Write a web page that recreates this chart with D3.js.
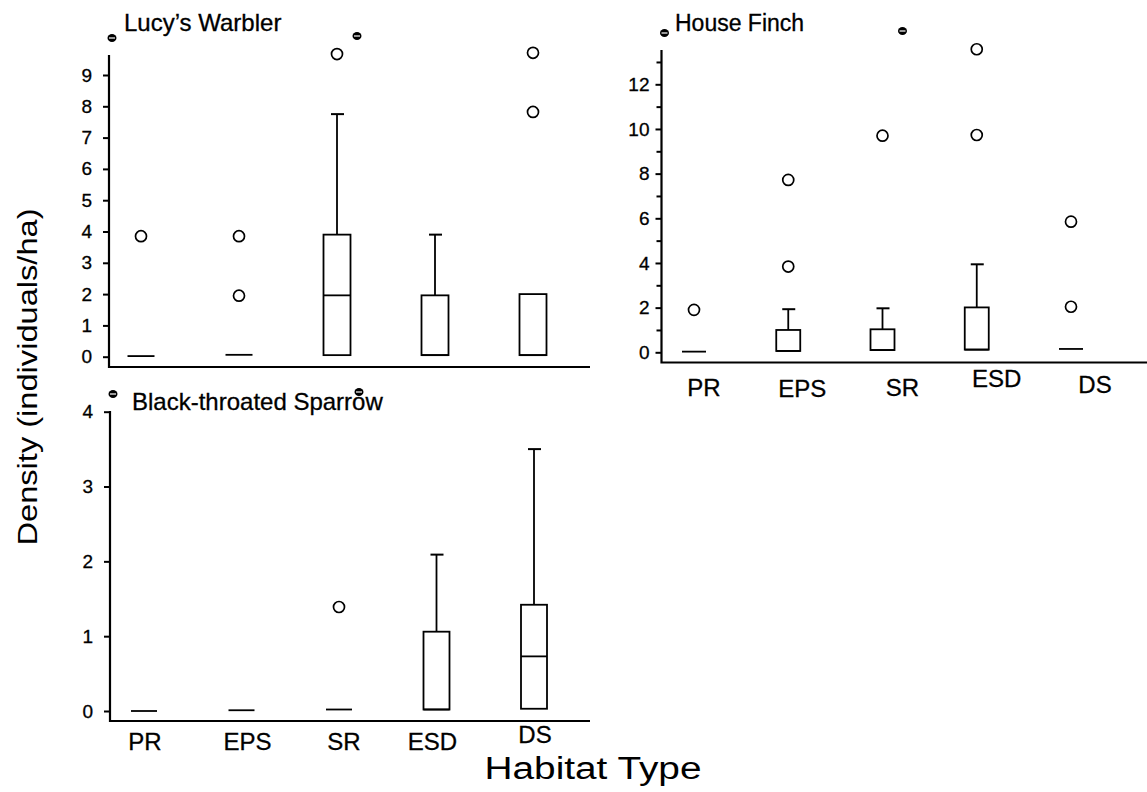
<!DOCTYPE html>
<html>
<head>
<meta charset="utf-8">
<script src="https://cdn.jsdelivr.net/npm/d3@7"></script>
<style>
  body { margin: 0; background: #fff; }
  svg { display: block; font-family: Arial, "Liberation Sans", sans-serif; }
  svg text { fill: #000; stroke: #000; stroke-width: 0.3px; }
  svg text.big { stroke: none; }
</style>
</head>
<body>
<figure id="chart" style="margin:0"></figure>
<script>
// habitat categories shared by all three panels
const categories = ["PR", "EPS", "SR", "ESD", "DS"];

// Lucy's Warbler
const lucyQ1 = [0.02, 0.06, 0.05, 0.05, 0.05];
const lucyMedian = [0.02, 0.06, 1.96, 0.05, 0.05];
const lucyQ3 = [0.02, 0.06, 3.9, 1.96, 2.0];
const lucyWhisker = [0.02, 0.06, 7.75, 3.9, 2.0];
const lucyOutliers = [[3.85], [3.85, 1.95], [9.67], [], [7.82, 9.71]];
const lucyTicks = [0, 1, 2, 3, 4, 5, 6, 7, 8, 9];

// House Finch
const finchQ1 = [0.03, 0.06, 0.1, 0.12, 0.15];
const finchMedian = [0.03, 0.06, 0.1, 0.12, 0.15];
const finchQ3 = [0.03, 1.0, 1.03, 2.01, 0.15];
const finchWhisker = [0.03, 1.93, 1.97, 3.94, 0.15];
const finchOutliers = [[1.9], [3.84, 7.72], [9.7], [9.73, 13.57], [5.85, 2.04]];
const finchTicks = [0, 2, 4, 6, 8, 10, 12];
const finchMinorTicks = [1, 3, 5, 7, 9, 11, 13];

// Black-throated Sparrow
const sparrowQ1 = [0, 0.01, 0.02, 0.02, 0.03];
const sparrowMedian = [0, 0.01, 0.02, 0.02, 0.73];
const sparrowQ3 = [0, 0.01, 0.02, 1.06, 1.42];
const sparrowWhisker = [0, 0.01, 0.02, 2.09, 3.5];
const sparrowOutliers = [[], [], [1.39], [], []];
const sparrowTicks = [0, 1, 2, 3, 4];

const W = 1147, H = 792;

const svg = d3.select("#chart").append("svg")
  .attr("width", W)
  .attr("height", H);

// panel layout (pixels)
const panels = [
  {
    title: "Lucy\u2019s Warbler", titleX: 124, titleY: 31, titleSize: 24,
    q1: lucyQ1, med: lucyMedian, q3: lucyQ3, wh: lucyWhisker, out: lucyOutliers,
    domain: [0, 9], yRange: [356.7, 75], ticks: lucyTicks, minor: [],
    axisX: 109, axisTop: 55, baseY: 367, xEnd: 590,
    xRange: [141, 533], boxW: 27, pad: 11, showLabels: false
  },
  {
    title: "House Finch", titleX: 675, titleY: 31, titleSize: 23,
    q1: finchQ1, med: finchMedian, q3: finchQ3, wh: finchWhisker, out: finchOutliers,
    domain: [0, 12], yRange: [352.3, 84.3], ticks: finchTicks, minor: finchMinorTicks,
    axisX: 661.5, axisTop: 50, baseY: 362.5, xEnd: 1147,
    xRange: [694, 1071], boxW: 24, pad: 6, showLabels: true, labelY: 396,
    labelDx: [10, 14, 20, 20, 24], labelDy: [0, 1, 0, -9, -3]
  },
  {
    title: "Black-throated Sparrow", titleX: 132, titleY: 410, titleSize: 24,
    q1: sparrowQ1, med: sparrowMedian, q3: sparrowQ3, wh: sparrowWhisker, out: sparrowOutliers,
    domain: [0, 4], yRange: [711, 411.7], ticks: sparrowTicks, minor: [],
    axisX: 110, axisTop: 411, baseY: 721, xEnd: 590,
    xRange: [144, 534], boxW: 26, pad: 11, showLabels: true, labelY: 750,
    labelDx: [1, 6, 5, -4, 1], labelDy: [0, 0, 0, 0, -7]
  }
];

panels.forEach(p => drawPanel(p));

// little scan marks (a filled blob with a light bar through it)
function scanMark(g, cx, cy) {
  g.append("ellipse")
    .attr("cx", cx).attr("cy", cy)
    .attr("rx", 4.5).attr("ry", 4)
    .attr("fill", "#000");
  g.append("line")
    .attr("x1", cx - 3).attr("x2", cx + 3)
    .attr("y1", cy).attr("y2", cy)
    .attr("stroke", "#fff").attr("stroke-width", 1.2);
}

function drawPanel(p) {
  const y = d3.scaleLinear().domain(p.domain).range(p.yRange);
  const x = d3.scalePoint().domain(categories).range(p.xRange);
  const g = svg.append("g");

  // y axis ticks + labels
  const yAxis = d3.axisLeft(y).tickValues(p.ticks).tickSize(6).tickPadding(p.pad).tickFormat(d3.format("d"));
  const ga = g.append("g")
    .attr("transform", `translate(${p.axisX},0)`)
    .call(yAxis);
  ga.select(".domain").remove();
  ga.selectAll("line").attr("stroke", "#000").attr("stroke-width", 2);
  ga.selectAll("text").attr("font-size", 19).attr("fill", "#000");

  if (p.minor.length) {
    const gm = g.append("g")
      .attr("transform", `translate(${p.axisX},0)`)
      .call(d3.axisLeft(y).tickValues(p.minor).tickSize(5).tickFormat(""));
    gm.select(".domain").remove();
    gm.selectAll("line").attr("stroke", "#000").attr("stroke-width", 2);
  }

  // axis frame (L shape)
  g.append("path")
    .attr("d", `M${p.axisX},${p.axisTop}V${p.baseY}H${p.xEnd}`)
    .attr("fill", "none")
    .attr("stroke", "#000")
    .attr("stroke-width", 2.2);

  // title
  g.append("text")
    .attr("x", p.titleX)
    .attr("y", p.titleY)
    .attr("font-size", p.titleSize)
    .text(p.title);

  scanMark(g, p.axisX + 3, p.axisTop - 17);
  scanMark(g, x("SR") + 20, p.axisTop - 19);

  const idx = d3.range(categories.length);
  const bw = p.boxW;

  // whiskers
  idx.filter(i => p.wh[i] > p.q3[i]).forEach(i => {
    const cx = x(categories[i]);
    g.append("line")
      .attr("x1", cx).attr("x2", cx)
      .attr("y1", y(p.q3[i])).attr("y2", y(p.wh[i]))
      .attr("stroke", "#000").attr("stroke-width", 1.8);
    g.append("line")
      .attr("x1", cx - 6).attr("x2", cx + 7)
      .attr("y1", y(p.wh[i])).attr("y2", y(p.wh[i]))
      .attr("stroke", "#000").attr("stroke-width", 2);
  });

  // boxes
  idx.forEach(i => {
    const cx = x(categories[i]);
    if (p.q3[i] - p.q1[i] > 0.05) {
      g.append("rect")
        .attr("x", cx - bw / 2)
        .attr("y", y(p.q3[i]))
        .attr("width", bw)
        .attr("height", y(p.q1[i]) - y(p.q3[i]))
        .attr("fill", "#fff")
        .attr("stroke", "#000")
        .attr("stroke-width", 1.8);
    }
    g.append("line")
      .attr("x1", cx - bw / 2).attr("x2", cx + bw / 2)
      .attr("y1", y(p.med[i])).attr("y2", y(p.med[i]))
      .attr("stroke", "#000").attr("stroke-width", 1.8);
  });

  // outliers
  idx.forEach(i => {
    g.selectAll(null)
      .data(p.out[i])
      .join("circle")
      .attr("cx", x(categories[i]))
      .attr("cy", d => y(d))
      .attr("r", 5.5)
      .attr("fill", "none")
      .attr("stroke", "#000")
      .attr("stroke-width", 1.7);
  });

  // category labels
  if (p.showLabels) {
    g.selectAll(null)
      .data(categories)
      .join("text")
      .attr("x", (d, i) => x(d) + p.labelDx[i])
      .attr("y", (d, i) => p.labelY + p.labelDy[i])
      .attr("text-anchor", "middle")
      .attr("font-size", 24)
      .text(d => d);
  }
}

// shared axis titles
svg.append("text")
  .attr("class", "big")
  .attr("transform", "translate(37,377) rotate(-90)")
  .attr("text-anchor", "middle")
  .attr("font-size", 27)
  .attr("textLength", 337)
  .attr("lengthAdjust", "spacingAndGlyphs")
  .text("Density (individuals/ha)");

svg.append("text")
  .attr("class", "big")
  .attr("x", 593)
  .attr("y", 779)
  .attr("text-anchor", "middle")
  .attr("font-size", 31)
  .attr("textLength", 217)
  .attr("lengthAdjust", "spacingAndGlyphs")
  .text("Habitat Type");
</script>
</body>
</html>
